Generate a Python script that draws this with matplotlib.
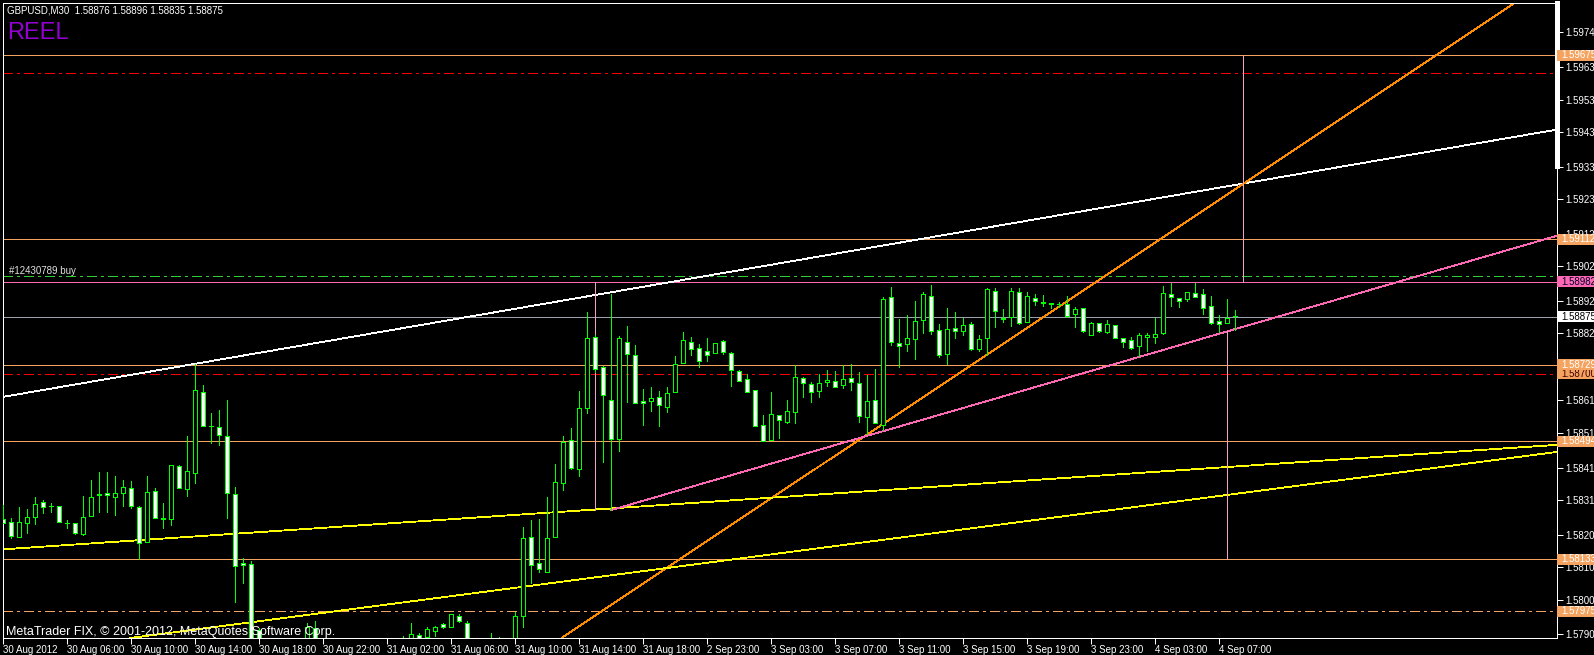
import matplotlib
matplotlib.use('Agg')
import matplotlib.pyplot as plt
from matplotlib.patches import Rectangle
from matplotlib import transforms

plt.rcParams['font.family'] = ['Liberation Sans', 'DejaVu Sans']
plt.rcParams['lines.scale_dashes'] = False
plt.rcParams['lines.antialiased'] = False
plt.rcParams['patch.antialiased'] = False

# ---- data (GBPUSD M30, 30 Aug 2012 02:00 -> 4 Sep 2012) ----
symbol = 'GBPUSD,M30'

opens = [1.58256, 1.58249, 1.58203, 1.58244, 1.58264, 1.58308, 1.58297, 1.58295, 1.58246, 1.58244,
         1.58210, 1.58267, 1.58330, 1.58336, 1.58325, 1.58337, 1.58353, 1.58293, 1.58185, 1.58342,
         1.58259, 1.58258, 1.58418, 1.58347, 1.58398, 1.58644, 1.58541, 1.58537, 1.58510, 1.58332,
         1.58122, 1.58119, 1.57916, 1.57841, 1.57820, 1.57845, 1.57860, 1.57850, 1.57870, 1.57923,
         1.57860, 1.57845, 1.57835, 1.57850, 1.57840, 1.57855, 1.57845, 1.57860, 1.57850, 1.57865,
         1.57870, 1.57875, 1.57902, 1.57897, 1.57913, 1.57935, 1.57928, 1.57961, 1.57940, 1.57850,
         1.57840, 1.57860, 1.57865, 1.57875, 1.57870, 1.57961, 1.58201, 1.58122, 1.58096, 1.58203,
         1.58366, 1.58497, 1.58411, 1.58597, 1.58812, 1.58721, 1.58620, 1.58502, 1.58797, 1.58757,
         1.58617, 1.58617, 1.58629, 1.58598, 1.58644, 1.58733, 1.58797, 1.58780, 1.58769, 1.58765,
         1.58800, 1.58763, 1.58708, 1.58684, 1.58650, 1.58543, 1.58497, 1.58575, 1.58554, 1.58583,
         1.58687, 1.58669, 1.58647, 1.58675, 1.58678, 1.58666, 1.58687, 1.58672, 1.58570, 1.58620,
         1.58544, 1.58935, 1.58794, 1.58791, 1.58806, 1.58864, 1.58938, 1.58834, 1.58760, 1.58840,
         1.58832, 1.58852, 1.58777, 1.58809, 1.58953, 1.58872, 1.58873, 1.58950, 1.58858, 1.58931,
         1.58916, 1.58916, 1.58914, 1.58913, 1.58882, 1.58901, 1.58820, 1.58855, 1.58829, 1.58849,
         1.58809, 1.58804, 1.58786, 1.58814, 1.58814, 1.58824, 1.58945, 1.58933, 1.58928, 1.58947,
         1.58944, 1.58907, 1.58861, 1.58855, 1.58876]

highs = [1.58300, 1.58259, 1.58293, 1.58287, 1.58323, 1.58315, 1.58305, 1.58297, 1.58254, 1.58246,
         1.58327, 1.58376, 1.58401, 1.58401, 1.58388, 1.58376, 1.58373, 1.58295, 1.58388, 1.58353,
         1.58307, 1.58421, 1.58421, 1.58511, 1.58731, 1.58666, 1.58581, 1.58590, 1.58621, 1.58354,
         1.58137, 1.58129, 1.57924, 1.57870, 1.57855, 1.57875, 1.57880, 1.57885, 1.57939, 1.57945,
         1.57880, 1.57870, 1.57860, 1.57875, 1.57865, 1.57880, 1.57870, 1.57882, 1.57875, 1.57885,
         1.57899, 1.57938, 1.57908, 1.57928, 1.57931, 1.57938, 1.57967, 1.57966, 1.57945, 1.57875,
         1.57870, 1.57909, 1.57897, 1.57885, 1.57974, 1.58232, 1.58254, 1.58257, 1.58324, 1.58425,
         1.58511, 1.58534, 1.58648, 1.58889, 1.58819, 1.58725, 1.58945, 1.58816, 1.58847, 1.58789,
         1.58654, 1.58660, 1.58648, 1.58660, 1.58755, 1.58828, 1.58812, 1.58792, 1.58809, 1.58794,
         1.58804, 1.58767, 1.58712, 1.58699, 1.58650, 1.58575, 1.58644, 1.58575, 1.58621, 1.58727,
         1.58692, 1.58677, 1.58699, 1.58711, 1.58708, 1.58728, 1.58730, 1.58705, 1.58696, 1.58715,
         1.58935, 1.58966, 1.58867, 1.58879, 1.58923, 1.58950, 1.58972, 1.58852, 1.58901, 1.58890,
         1.58870, 1.58858, 1.58818, 1.58962, 1.58962, 1.58898, 1.58963, 1.58962, 1.58950, 1.58944,
         1.58942, 1.58916, 1.58921, 1.58938, 1.58904, 1.58901, 1.58860, 1.58855, 1.58865, 1.58849,
         1.58809, 1.58812, 1.58825, 1.58825, 1.58872, 1.58969, 1.58979, 1.58933, 1.58950, 1.58979,
         1.58960, 1.58938, 1.58879, 1.58929, 1.58896]

lows = [1.58244, 1.58200, 1.58203, 1.58215, 1.58242, 1.58274, 1.58279, 1.58249, 1.58229, 1.58211,
        1.58208, 1.58267, 1.58279, 1.58279, 1.58268, 1.58297, 1.58290, 1.58136, 1.58185, 1.58261,
        1.58230, 1.58239, 1.58353, 1.58328, 1.58368, 1.58542, 1.58490, 1.58484, 1.58261, 1.58004,
        1.58062, 1.57811, 1.57802, 1.57790, 1.57800, 1.57825, 1.57830, 1.57835, 1.57850, 1.57840,
        1.57830, 1.57820, 1.57810, 1.57835, 1.57825, 1.57840, 1.57830, 1.57845, 1.57835, 1.57850,
        1.57850, 1.57865, 1.57880, 1.57890, 1.57899, 1.57923, 1.57926, 1.57943, 1.57830, 1.57820,
        1.57815, 1.57840, 1.57845, 1.57850, 1.57860, 1.57926, 1.58062, 1.58096, 1.58096, 1.58203,
        1.58346, 1.58410, 1.58389, 1.58582, 1.58706, 1.58432, 1.58284, 1.58466, 1.58615, 1.58611,
        1.58545, 1.58588, 1.58542, 1.58585, 1.58644, 1.58733, 1.58758, 1.58721, 1.58741, 1.58765,
        1.58762, 1.58664, 1.58678, 1.58644, 1.58540, 1.58494, 1.58497, 1.58505, 1.58550, 1.58551,
        1.58631, 1.58615, 1.58631, 1.58664, 1.58659, 1.58656, 1.58651, 1.58554, 1.58517, 1.58551,
        1.58529, 1.58790, 1.58722, 1.58771, 1.58747, 1.58826, 1.58821, 1.58751, 1.58732, 1.58811,
        1.58818, 1.58772, 1.58769, 1.58758, 1.58845, 1.58858, 1.58847, 1.58853, 1.58858, 1.58911,
        1.58908, 1.58901, 1.58904, 1.58875, 1.58845, 1.58829, 1.58820, 1.58828, 1.58826, 1.58811,
        1.58782, 1.58777, 1.58755, 1.58770, 1.58796, 1.58821, 1.58909, 1.58906, 1.58924, 1.58935,
        1.58884, 1.58852, 1.58829, 1.58855, 1.58835]

closes = [1.58246, 1.58205, 1.58249, 1.58262, 1.58304, 1.58293, 1.58298, 1.58249, 1.58244, 1.58213,
          1.58262, 1.58325, 1.58332, 1.58329, 1.58336, 1.58356, 1.58295, 1.58183, 1.58339, 1.58261,
          1.58256, 1.58421, 1.58353, 1.58403, 1.58650, 1.58542, 1.58539, 1.58512, 1.58336, 1.58113,
          1.58117, 1.57857, 1.57841, 1.57820, 1.57845, 1.57860, 1.57850, 1.57870, 1.57928, 1.57860,
          1.57845, 1.57835, 1.57850, 1.57840, 1.57855, 1.57845, 1.57860, 1.57850, 1.57865, 1.57870,
          1.57875, 1.57905, 1.57894, 1.57920, 1.57926, 1.57926, 1.57966, 1.57945, 1.57850, 1.57840,
          1.57860, 1.57865, 1.57875, 1.57870, 1.57960, 1.58198, 1.58117, 1.58103, 1.58198, 1.58369,
          1.58493, 1.58414, 1.58595, 1.58809, 1.58714, 1.58635, 1.58501, 1.58809, 1.58762, 1.58611,
          1.58611, 1.58626, 1.58604, 1.58641, 1.58730, 1.58803, 1.58776, 1.58739, 1.58757, 1.58794,
          1.58766, 1.58711, 1.58678, 1.58644, 1.58540, 1.58494, 1.58577, 1.58559, 1.58586, 1.58690,
          1.58672, 1.58644, 1.58672, 1.58681, 1.58659, 1.58684, 1.58675, 1.58573, 1.58617, 1.58551,
          1.58928, 1.58797, 1.58786, 1.58809, 1.58861, 1.58944, 1.58831, 1.58757, 1.58837, 1.58831,
          1.58849, 1.58776, 1.58806, 1.58959, 1.58892, 1.58869, 1.58953, 1.58855, 1.58938, 1.58922,
          1.58920, 1.58913, 1.58912, 1.58878, 1.58898, 1.58832, 1.58855, 1.58832, 1.58852, 1.58811,
          1.58799, 1.58780, 1.58818, 1.58818, 1.58822, 1.58947, 1.58936, 1.58924, 1.58950, 1.58936,
          1.58903, 1.58857, 1.58852, 1.58870, 1.58875]

time_labels = ['30 Aug 2012', '30 Aug 06:00', '30 Aug 10:00', '30 Aug 14:00', '30 Aug 18:00',
               '30 Aug 22:00', '31 Aug 02:00', '31 Aug 06:00', '31 Aug 10:00', '31 Aug 14:00',
               '31 Aug 18:00', '2 Sep 23:00', '3 Sep 03:00', '3 Sep 07:00', '3 Sep 11:00',
               '3 Sep 15:00', '3 Sep 19:00', '3 Sep 23:00', '4 Sep 03:00', '4 Sep 07:00']
bars_per_label = 8

price_ticks = [1.59744, 1.59639, 1.59539, 1.59439, 1.59334, 1.59234, 1.59129, 1.59029, 1.58924,
               1.58824, 1.58719, 1.58619, 1.58519, 1.58414, 1.58314, 1.58209, 1.58109, 1.58009, 1.57904]

orange_levels = [1.59675, 1.59112, 1.58729, 1.58494, 1.58133]
orange_dashdot_level = 1.57975
red_levels = [1.59620, 1.58700]
pink_level = 1.58982
order_level = 1.59001
order_text = '#12430789 buy'

# trend lines: two anchor points (bar, price)
white_trend = [(24, 1.58731), (155, 1.59282)]
orange_trend = [(108, 1.58515), (155, 1.59281)]
pink_ray = [(76, 1.58284), (153, 1.58830)]
yellow_upper = [(0, 1.58164), (194, 1.58483)]
yellow_lower = [(62, 1.58040), (194, 1.58461)]
# vertical lines: (bar, from price, to price)
v_lines = [(74, 1.58284, 1.58982), (153, 1.58133, 1.58830), (155, 1.58982, 1.59675)]

# ---- figure ----
W, H = 1594, 655
fig = plt.figure(figsize=(W / 100, H / 100), dpi=100, facecolor='black')
ax = fig.add_axes([3 / W, 17 / H, 1554 / W, 635 / H], facecolor='black')
ymin, ymax = 1.57893, 1.59834
ax.set_ylim(ymin, ymax)
ax.set_xlim(0, 1554 / 8)

LIME = '#00ff00'
ORANGE = '#f4a460'
PINK = '#ff69b4'
DASHDOT = (0, (7, 3.5, 2, 3.5))
lw = 0.72
dlw = 0.6  # diagonal objects

for lv in orange_levels:
    ax.axhline(lv, color=ORANGE, lw=lw, zorder=2)
ax.axhline(orange_dashdot_level, color=ORANGE, lw=lw, ls=DASHDOT, zorder=2)
for lv in red_levels:
    ax.axhline(lv, color='#ff0000', lw=lw, ls=DASHDOT, zorder=2)
ax.axhline(order_level, color='#32cd32', lw=lw, ls=DASHDOT, zorder=2)
ax.axhline(pink_level, color=PINK, lw=lw, zorder=2)
ax.axhline(closes[-1], color='#9aa2ac', lw=lw, zorder=2)

ax.axline(*white_trend, color='white', lw=dlw, zorder=2)
ax.axline(*orange_trend, color='#ff8c00', lw=dlw, zorder=2)
ax.axline(*yellow_upper, color='#ffff00', lw=dlw, zorder=2)
ax.axline(*yellow_lower, color='#ffff00', lw=dlw, zorder=2)
(x0, p0), (x1, p1) = pink_ray
xr = ax.get_xlim()[1]
ax.plot([x0, xr], [p0, p0 + (p1 - p0) / (x1 - x0) * (xr - x0)], color=PINK, lw=dlw, zorder=2)
for b, pa, pb in v_lines:
    ax.plot([b, b], [pa, pb], color='#eea0c6', lw=lw, zorder=2)

# candles
xs = list(range(len(opens)))
ax.vlines(xs, lows, highs, color=LIME, lw=lw, zorder=4)
for i, (o, c) in enumerate(zip(opens, closes)):
    if abs(c - o) < 0.00002:
        ax.hlines(o, i - 0.3, i + 0.3, color=LIME, lw=lw, zorder=5)
    else:
        ax.add_patch(Rectangle((i - 0.3, min(o, c)), 0.6, abs(c - o),
                               facecolor='white' if c < o else 'black',
                               edgecolor=LIME, lw=lw, zorder=5))

# axes styling
for s in ax.spines.values():
    s.set_color('white')
    s.set_linewidth(lw)
ax.plot([1, 1], [1, (638 - 166) / 635], transform=ax.transAxes, color='white',
        lw=2.2, clip_on=False, zorder=6)

ax.yaxis.tick_right()
ax.set_yticks(price_ticks)
ax.set_yticklabels([f'{p:.5f}' for p in price_ticks])
ax.tick_params(axis='y', colors='white', length=4, width=lw, pad=2, labelsize=7)
ax.set_xticks([k * bars_per_label for k in range(len(time_labels))])
ax.set_xticklabels(time_labels)
ax.tick_params(axis='x', colors='white', length=4, width=lw, pad=1, labelsize=7)
for t in ax.get_xticklabels():
    t.set_ha('left')

# price labels on the right scale
trans = transforms.blended_transform_factory(ax.transAxes, ax.transData)
box_h = 11 / 635 * (ymax - ymin)
box_w = 40 / 1554
tags = [(orange_dashdot_level, ORANGE, 'white'), (1.58133, ORANGE, 'white'),
        (1.58494, ORANGE, 'white'), (1.58700, ORANGE, '#400000'), (1.58729, ORANGE, 'white'),
        (closes[-1], 'white', 'black'), (pink_level, PINK, '#000030'),
        (1.59112, ORANGE, 'white'), (1.59675, ORANGE, 'white')]
for k, (p, bg, fg) in enumerate(tags):
    ax.add_patch(Rectangle((1.0, p - box_h / 2), box_w, box_h, transform=trans,
                           facecolor=bg, edgecolor='none', clip_on=False, zorder=20 + k))
    ax.text(1.0 + 4 / 1554, p, f'{p:.5f}', transform=trans, color=fg, fontsize=7,
            va='center', ha='left', clip_on=False, zorder=20 + k)

# texts
header = f'{symbol}  {opens[-1]:.5f} {highs[-1]:.5f} {lows[-1]:.5f} {closes[-1]:.5f}'
fig.text(7 / W, 1 - 10.5 / H, header, color='white', fontsize=7, va='center', ha='left')
fig.text(7 / W, 1 - 33 / H, 'REEL', color='#9400d3', fontsize=17, va='center', ha='left')
ax.text(6 / 1554, order_level, order_text, transform=trans, color='#e0e0e0',
        fontsize=7, va='bottom', ha='left', zorder=30)
fig.text(6 / W, 1 - 632 / H, 'MetaTrader FIX, \u00a9 2001-2012, MetaQuotes Software Corp.',
         color='white', fontsize=9, va='center', ha='left', zorder=30)

fig.savefig('out.png', dpi=100, facecolor='black')
